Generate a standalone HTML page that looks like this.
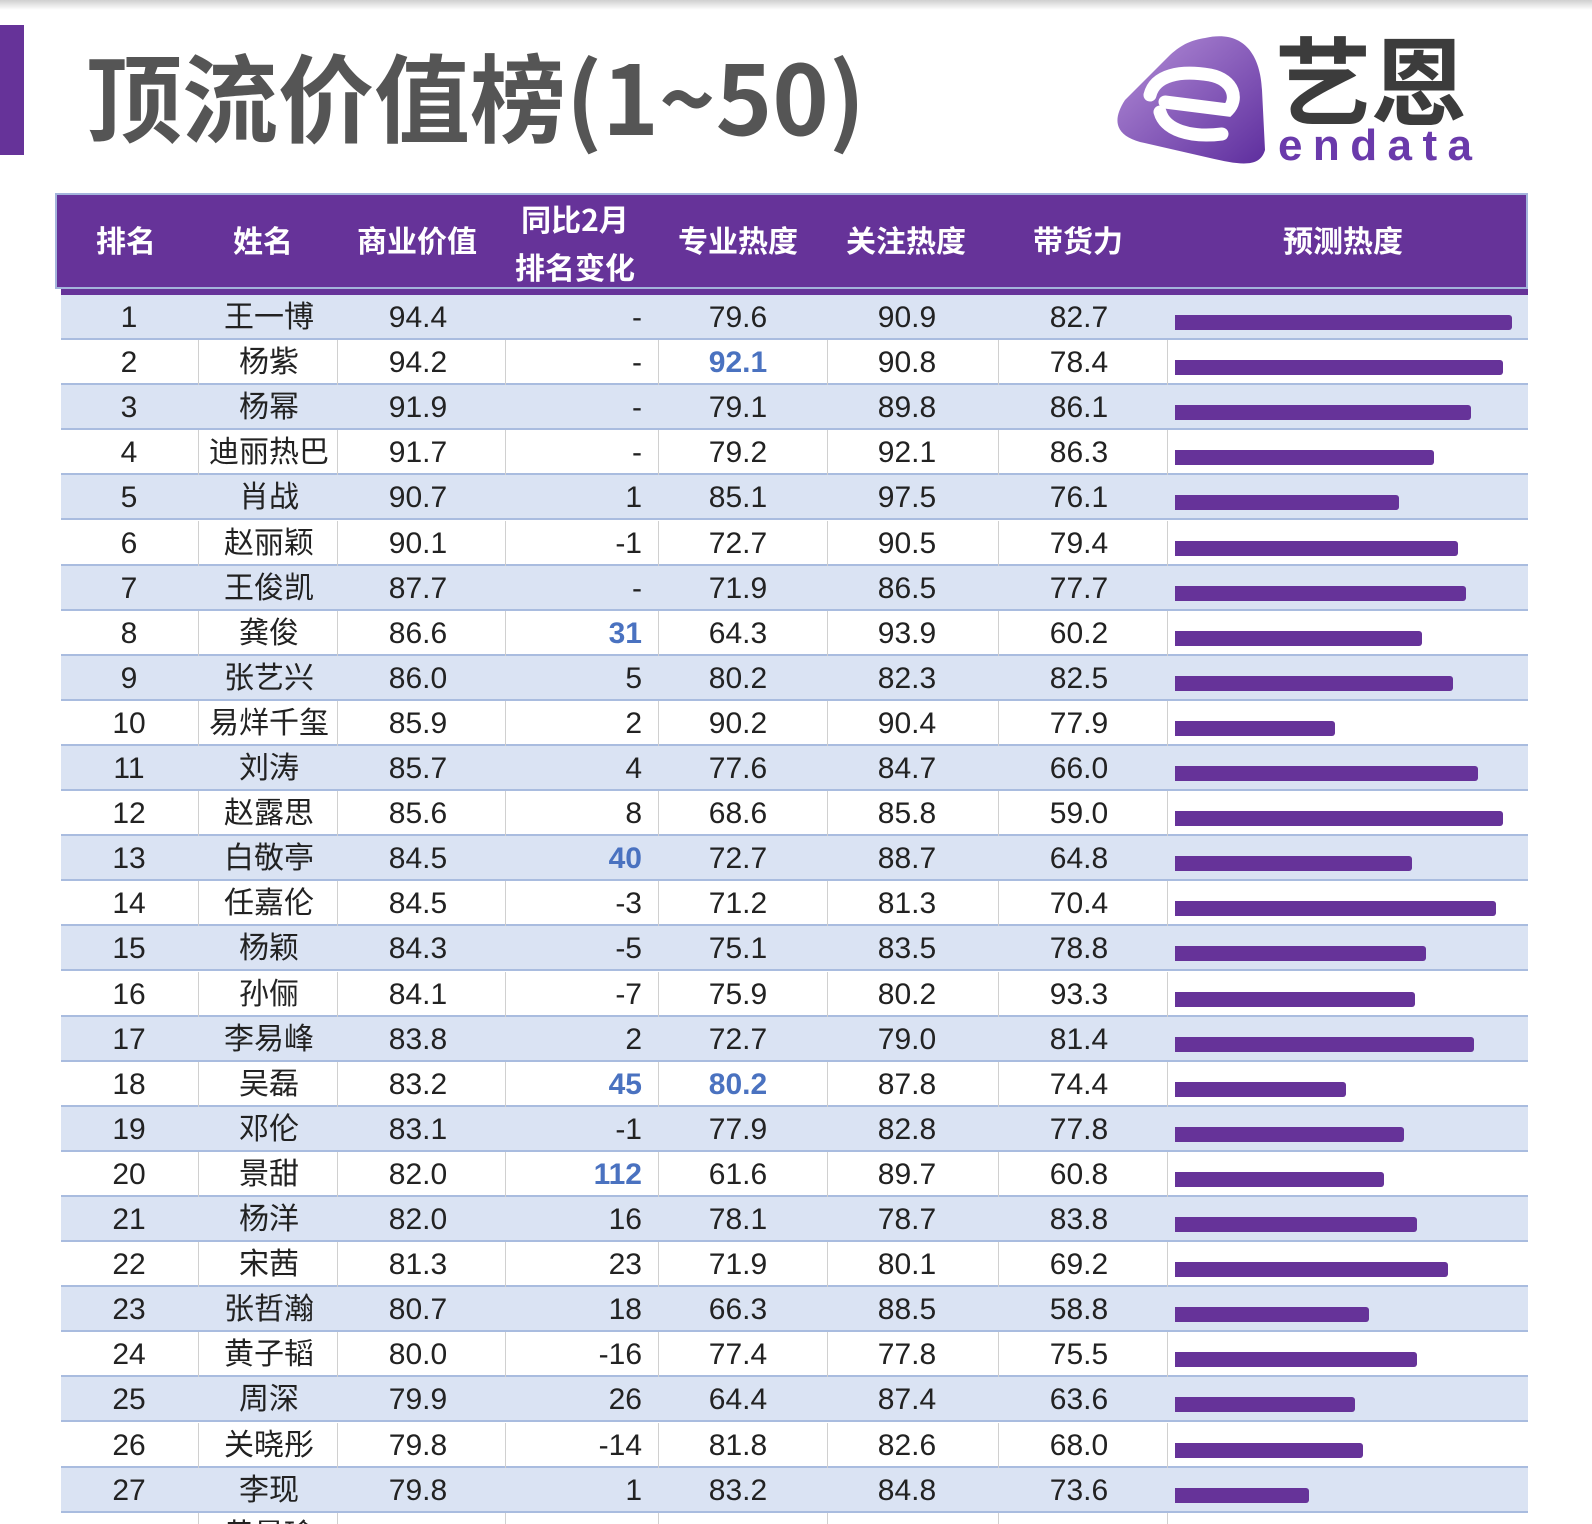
<!DOCTYPE html>
<html><head><meta charset="utf-8">
<style>
html,body{margin:0;padding:0;width:1592px;height:1524px;overflow:hidden;background:#fff;font-family:"Liberation Sans","Noto Sans CJK SC",sans-serif;}
#root{position:relative;width:1592px;height:1524px;overflow:hidden;}
.abs{position:absolute;}
.hd{position:absolute;color:#fff;font-weight:bold;font-size:30px;font-family:"Noto Sans CJK SC",sans-serif;text-align:center;line-height:1;}
.cell{position:absolute;font-size:30px;color:#222;font-family:"Liberation Sans","Noto Sans CJK SC",sans-serif;line-height:45px;height:45px;}
</style></head><body>
<div id="root">
<div class="abs" style="left:0;top:0;width:1592px;height:10px;background:linear-gradient(#cfcfcf,#fff)"></div>
<div class="abs" style="left:0;top:25px;width:24px;height:130px;background:#663399"></div>
<div class="abs" style="left:86px;top:34px;font-size:96px;font-weight:bold;color:#555;font-family:'Noto Sans CJK SC',sans-serif;letter-spacing:0px;line-height:120px;white-space:nowrap">顶流价值榜(1~50)</div>
<svg class="abs" style="left:1110px;top:30px" width="370" height="140" viewBox="0 0 370 140">
<defs><linearGradient id="lg" x1="0" y1="0" x2="1" y2="1"><stop offset="0" stop-color="#b48fd8"/><stop offset="1" stop-color="#5e2e9e"/></linearGradient></defs>
<path d="M95 8 C130 0 150 20 152 60 L155 120 C150 138 130 135 100 128 L30 112 C5 105 2 90 15 70 L60 25 C72 14 82 10 95 8Z" fill="url(#lg)"/>
<path d="M40 65 C45 45 70 40 100 45 C125 50 128 70 118 80 L55 72 M50 82 C55 100 80 108 112 104" stroke="#fff" stroke-width="13" fill="none" stroke-linecap="round"/>
<text x="165" y="88" font-size="96" font-weight="bold" fill="#3c3c3c" font-family="Noto Sans CJK SC,sans-serif">艺恩</text>
<text x="168" y="130" font-size="44" font-weight="bold" fill="#6a3aab" font-family="Liberation Sans,sans-serif" letter-spacing="1" textLength="195">endata</text>
</svg>
<div class="abs" style="left:55px;top:193px;width:1473px;height:96px;background:#663399;border:2px solid #a4b4dc;box-sizing:border-box"></div>
<div class="abs" style="left:61px;top:289px;width:1467px;height:6px;background:#663399"></div>
<div id="hdrs"></div>
<div id="body"></div>
</div>
<script>
const ranks=[1,2,3,4,5,6,7,8,9,10,11,12,13,14,15,16,17,18,19,20,21,22,23,24,25,26,27,28];
const names=["王一博","杨紫","杨幂","迪丽热巴","肖战","赵丽颖","王俊凯","龚俊","张艺兴","易烊千玺","刘涛","赵露思","白敬亭","任嘉伦","杨颖","孙俪","李易峰","吴磊","邓伦","景甜","杨洋","宋茜","张哲瀚","黄子韬","周深","关晓彤","李现","黄景瑜"];
const bizValue=["94.4","94.2","91.9","91.7","90.7","90.1","87.7","86.6","86.0","85.9","85.7","85.6","84.5","84.5","84.3","84.1","83.8","83.2","83.1","82.0","82.0","81.3","80.7","80.0","79.9","79.8","79.8","79.5"];
const rankChange=["-","-","-","-","1","-1","-","31","5","2","4","8","40","-3","-5","-7","2","45","-1","112","16","23","18","-16","26","-14","1","1"];
const changeHi=[0,0,0,0,0,0,0,1,0,0,0,0,1,0,0,0,0,1,0,1,0,0,0,0,0,0,0,0];
const proHeat=["79.6","92.1","79.1","79.2","85.1","72.7","71.9","64.3","80.2","90.2","77.6","68.6","72.7","71.2","75.1","75.9","72.7","80.2","77.9","61.6","78.1","71.9","66.3","77.4","64.4","81.8","83.2","79.1"];
const proHi=[0,1,0,0,0,0,0,0,0,0,0,0,0,0,0,0,0,1,0,0,0,0,0,0,0,0,0,0];
const attnHeat=["90.9","90.8","89.8","92.1","97.5","90.5","86.5","93.9","82.3","90.4","84.7","85.8","88.7","81.3","83.5","80.2","79.0","87.8","82.8","89.7","78.7","80.1","88.5","77.8","87.4","82.6","84.8","79.7"];
const salesPower=["82.7","78.4","86.1","86.3","76.1","79.4","77.7","60.2","82.5","77.9","66.0","59.0","64.8","70.4","78.8","93.3","81.4","74.4","77.8","60.8","83.8","69.2","58.8","75.5","63.6","68.0","73.6","64.5"];
const forecast=[100,97.3,87.7,76.8,66.6,84.0,86.4,73.2,82.5,47.6,89.8,97.3,70.2,95.2,74.4,71.1,88.6,50.6,68.1,62.0,71.7,81.0,57.5,71.7,53.3,55.7,39.8,60];

const ROW0=295, RH=45.1, MAXW=337, BX=1175;
const xScale=v=>v/100*MAXW;
const hdrs=document.getElementById('hdrs');
const heads=[["排名",126],["姓名",263],["商业价值",417],["专业热度",738],["关注热度",906],["带货力",1078],["预测热度",1343]];
heads.forEach(h=>{
 const d=document.createElement('div');d.className='hd';d.textContent=h[0];
 
 
 d.style.left=(h[1]-100)+'px';d.style.width='200px';d.style.top='224px';hdrs.appendChild(d);
});
const h2=document.createElement('div');h2.className='hd';h2.innerHTML='同比2月<br>排名变化';


h2.style.left='475px';h2.style.width='200px';h2.style.top='194px';h2.style.lineHeight='48px';hdrs.appendChild(h2);

const body=document.getElementById('body');
const vlines=[198,337,505,658,827,998,1167];
ranks.forEach((r,i)=>{
 const top=ROW0+i*RH;
 const row=document.createElement('div');
 
 
 row.style.cssText=`position:absolute;left:61px;top:${top}px;width:1467px;height:${RH}px;background:${i%2==0?'#dae3f3':'#fff'};border-bottom:2px solid #a9bcdf;box-sizing:border-box;`;
 body.appendChild(row);
 if(i%2==1){vlines.forEach(x=>{const v=document.createElement('div');
  
  
  v.style.cssText=`position:absolute;left:${x}px;top:${top}px;width:1px;height:${RH}px;background:#d0d0d0`;body.appendChild(v);});}
 const cells=[[String(r),129,'c',0],[names[i],269,'c',0],[bizValue[i],418,'c',0],[rankChange[i],642,'r',changeHi[i]],[proHeat[i],738,'c',proHi[i]],[attnHeat[i],907,'c',0],[salesPower[i],1079,'c',0]];
 cells.forEach(c=>{
  const d=document.createElement('div');d.className='cell';d.textContent=c[0];
  
  
  d.style.top=(top)+'px';
  if(c[2]=='c'){d.style.left=(c[1]-80)+'px';d.style.width='160px';d.style.textAlign='center';}
  else{d.style.left=(c[1]-140)+'px';d.style.width='140px';d.style.textAlign='right';}
  if(c[3]){d.style.color='#4a72c0';d.style.fontWeight='bold';}
  body.appendChild(d);
 });
 const b=document.createElement('div');
 
 
 b.style.cssText=`position:absolute;left:${BX}px;top:${top+20}px;width:${xScale(forecast[i])}px;height:15px;background:#663399;border-radius:0 3px 3px 0`;
 body.appendChild(b);
});
</script>
</body></html>
